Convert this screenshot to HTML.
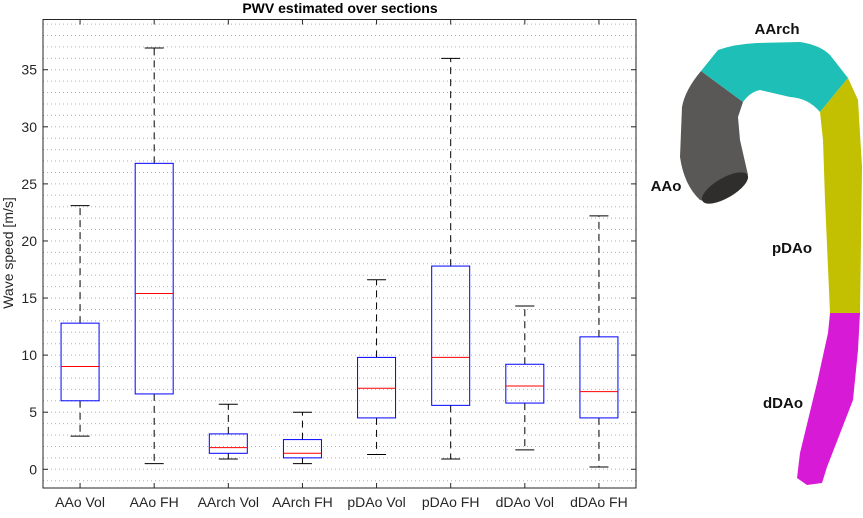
<!DOCTYPE html>
<html><head><meta charset="utf-8"><style>
body{margin:0;background:#fff;width:863px;height:513px;overflow:hidden;font-family:"Liberation Sans",sans-serif}
</style></head><body>
<svg id="chart" width="863" height="513" viewBox="0 0 863 513" xmlns="http://www.w3.org/2000/svg" font-family="Liberation Sans, sans-serif">
<g id="plot"></g>
<g>
<path d="M701,71 L743,102 L738,117 L740,140 L748,175 Q735,190 707,202 L700,200 Q684,185 680,157 L682,107 Q685,90 701,71Z" fill="#5a5856"/>
<ellipse cx="725" cy="188" rx="26" ry="10" transform="rotate(-30 725 188)" fill="#2f2e2d"/>
<path d="M701,71 L718,50 Q735,44 757,43 L800,42 Q820,45 830,55 L848,78 L820,112 Q808,98 790,97 L760,90 Q750,92 743,102Z" fill="#1ebfb6"/>
<path d="M848,78 L858,100 L862,167 L860,313 L830,313 L825,200 L823,140 L820,112Z" fill="#c2c000"/>
<path d="M830,313 L860,313 L858,350 L853,400 L827,467 L822,483 L807,485 L797,478 L800,453 L817,383 L828,333Z" fill="#d61ad6"/>
<text x="777" y="34" font-size="15" font-weight="bold" text-anchor="middle" fill="#111">AArch</text>
<text x="666" y="191" font-size="15" font-weight="bold" text-anchor="middle" fill="#111">AAo</text>
<text x="792" y="253" font-size="15" font-weight="bold" text-anchor="middle" fill="#111">pDAo</text>
<text x="783" y="408" font-size="15" font-weight="bold" text-anchor="middle" fill="#111">dDAo</text>
</g>
</svg>
<script>
const categories=["AAo Vol","AAo FH","AArch Vol","AArch FH","pDAo Vol","pDAo FH","dDAo Vol","dDAo FH"];
const whiskerLow=[2.9,0.5,0.9,0.5,1.3,0.9,1.7,0.2];
const q1=[6.0,6.6,1.4,1.0,4.5,5.6,5.8,4.5];
const median=[9.0,15.4,1.9,1.4,7.1,9.8,7.3,6.8];
const q3=[12.8,26.8,3.1,2.6,9.8,17.8,9.2,11.6];
const whiskerHigh=[23.1,36.9,5.7,5.0,16.6,36.0,14.3,22.2];
const yTicks=[0,5,10,15,20,25,30,35];
const L=43,R=636,T=19.5,B=488,yMin=-1.64,yMax=39.4;
const ys=v=>B-(v-yMin)/(yMax-yMin)*(B-T);
const xs=i=>L+(i+0.5)*(R-L)/categories.length;
const g=document.getElementById('plot');
const NS="http://www.w3.org/2000/svg";
function mk(t,a,p){const e=document.createElementNS(NS,t);for(const k in a)e.setAttribute(k,a[k]);(p||g).appendChild(e);return e;}
// minor grid
for(let v=-1;v<=39;v++){const l=mk('line',{x1:L,x2:R,y1:ys(v),y2:ys(v),stroke:'#b0b0b0','stroke-width':1,'stroke-dasharray':'1,3'});

}
// axes box
const ax=mk('rect',{x:L,y:T,width:R-L,height:B-T,fill:'none',stroke:'#262626','stroke-width':1});


yTicks.forEach(v=>{const y=ys(v);
mk('line',{x1:L,x2:L+5,y1:y,y2:y,stroke:'#262626'});mk('line',{x1:R,x2:R-5,y1:y,y2:y,stroke:'#262626'});
const t=mk('text',{x:L-6,y:y+5,'text-anchor':'end','font-size':14,fill:'#262626'});t.textContent=v;

});
const bw=38;
categories.forEach((c,i)=>{const x=xs(i);
mk('line',{x1:x,x2:x,y1:B,y2:B-5,stroke:'#262626'});mk('line',{x1:x,x2:x,y1:T,y2:T+5,stroke:'#262626'});
const t=mk('text',{x:x,y:B+19,'text-anchor':'middle','font-size':14,fill:'#262626'});t.textContent=c;


const bg=mk('g',{});


mk('line',{x1:x,x2:x,y1:ys(q3[i]),y2:ys(whiskerHigh[i]),stroke:'#000','stroke-dasharray':'7,5'},bg);
mk('line',{x1:x,x2:x,y1:ys(q1[i]),y2:ys(whiskerLow[i]),stroke:'#000','stroke-dasharray':'7,5'},bg);
mk('line',{x1:x-bw/4,x2:x+bw/4,y1:ys(whiskerHigh[i]),y2:ys(whiskerHigh[i]),stroke:'#000'},bg);
mk('line',{x1:x-bw/4,x2:x+bw/4,y1:ys(whiskerLow[i]),y2:ys(whiskerLow[i]),stroke:'#000'},bg);
mk('rect',{x:x-bw/2,y:ys(q3[i]),width:bw,height:ys(q1[i])-ys(q3[i]),fill:'none',stroke:'#0000ff'},bg);
mk('line',{x1:x-bw/2,x2:x+bw/2,y1:ys(median[i]),y2:ys(median[i]),stroke:'#ff0000'},bg);
});
const ti=mk('text',{x:340,y:13,'text-anchor':'middle','font-size':14,'font-weight':'bold',fill:'#000'});ti.textContent='PWV estimated over sections';


const yl=mk('text',{x:0,y:0,'text-anchor':'middle','font-size':14,fill:'#262626',transform:'translate(13,253) rotate(-90)'});yl.textContent='Wave speed [m/s]';


</script>
</body></html>
